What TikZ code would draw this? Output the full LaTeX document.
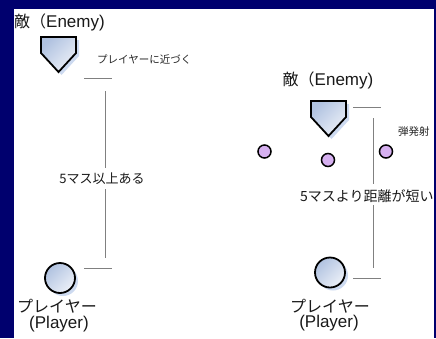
\documentclass[tikz,border=0pt]{standalone}
\usepackage{fontspec}
\setmainfont{Liberation Sans}
\newfontfamily\jp{Noto Sans CJK JP}
\definecolor{navy}{RGB}{0,0,110}
\definecolor{linegray}{RGB}{128,128,128}
\definecolor{shadowblue}{RGB}{205,218,240}
\definecolor{bodyblue}{RGB}{176,194,224}
\definecolor{bodylight}{RGB}{236,240,248}
\definecolor{purplefill}{RGB}{214,176,240}
\tikzset{
  bracket/.style={draw=linegray, line width=1pt},
  biglabel/.style={font=\fontsize{17}{19}\selectfont, inner sep=0pt, text=black!90},
  smalllabel/.style={font=\jp\fontsize{13}{15}\selectfont, inner sep=0pt, text=black!90},
  tinylabel/.style={font=\jp\fontsize{10.5}{12}\selectfont, inner sep=0pt, text=black!85},
  playerdot/.style={circle, draw=black, line width=1.8pt, minimum size=30pt, inner sep=0pt,
     shading=axis, left color=bodyblue, right color=bodylight, shading angle=45},
  shot/.style={circle, draw=black, line width=1.5pt, minimum size=13pt, inner sep=0pt, fill=purplefill},
  pics/enemy/.style={code={
    \fill[shadowblue] (-14.5,3) -- (20.5,3) -- (20.5,19) -- (3,38) -- (-14.5,19) -- cycle;
    \draw[line width=1.8pt, shading=axis, left color=bodyblue, right color=bodylight, shading angle=45, line join=miter]
      (-17.5,0) -- (17.5,0) -- (17.5,16) -- (0,35) -- (-17.5,16) -- cycle;
  }}
}
\begin{document}
\begin{tikzpicture}[x=1pt,y=-1pt]
\fill[navy] (0,0) rectangle (436,338);
\useasboundingbox (0,0) rectangle (436,338);
\fill[white] (14,9) rectangle (434,338);
\begin{scope}
\clip (14,9) rectangle (434,338);
% left scene
\node[biglabel, anchor=west] (enemyLlabel) at (14,22) {{\jp\fontsize{16}{18}\selectfont 敵（}Enemy)};
\pic at (58.5,37) {enemy};
\node[tinylabel, anchor=west] (approach) at (97,59) {プレイヤーに近づく};
\coordinate (lt1) at (84,78); \coordinate (lt2) at (112,78);
\draw[bracket] (lt1) -- (lt2);
\node[smalllabel] (farlabel) at (102,179) {5マス以上ある};
\coordinate (lv1) at (105,91); \coordinate (lv2) at (105,168);
\coordinate (lv3) at (105,189); \coordinate (lv4) at (105,258);
\draw[bracket] (lv1) -- (lv2);
\draw[bracket] (lv3) -- (lv4);
\coordinate (lb1) at (84,268); \coordinate (lb2) at (112,268);
\draw[bracket] (lb1) -- (lb2);
\fill[shadowblue] (63,281) circle (15);
\node[playerdot] (playerL) at (60,278) {};
\node[biglabel, font=\jp\fontsize{16}{18}\selectfont] (playerLjp) at (57,306) {プレイヤー};
\node[biglabel] (playerLen) at (59,324) {(Player)};
% right scene
\node[biglabel] (enemyRlabel) at (328,80) {{\jp\fontsize{16}{18}\selectfont 敵（}Enemy)};
\pic at (328.5,101) {enemy};
\coordinate (rt1) at (353,107); \coordinate (rt2) at (381,107);
\draw[bracket] (rt1) -- (rt2);
\node[tinylabel, anchor=west] (shoot) at (398,132) {弾発射};
\node[shot] (s1) at (264.5,151.5) {};
\node[shot] (s2) at (328,160) {};
\node[shot] (s3) at (386,151.5) {};
\coordinate (rv1) at (373,118); \coordinate (rv2) at (373,184);
\coordinate (rv3) at (373,205); \coordinate (rv4) at (373,268);
\draw[bracket] (rv1) -- (rv2);
\draw[bracket] (rv3) -- (rv4);
\node[smalllabel, font=\jp\fontsize{14}{16}\selectfont, anchor=west] (nearlabel) at (300,196) {5マスより距離が短い};
\coordinate (rb1) at (353,278); \coordinate (rb2) at (381,278);
\draw[bracket] (rb1) -- (rb2);
\fill[shadowblue] (333,275.5) circle (15);
\node[playerdot] (playerR) at (330,272.5) {};
\node[biglabel, font=\jp\fontsize{16}{18}\selectfont] (playerRjp) at (330,306) {プレイヤー};
\node[biglabel] (playerRen) at (329,323) {(Player)};
\end{scope}
\end{tikzpicture}
\end{document}
